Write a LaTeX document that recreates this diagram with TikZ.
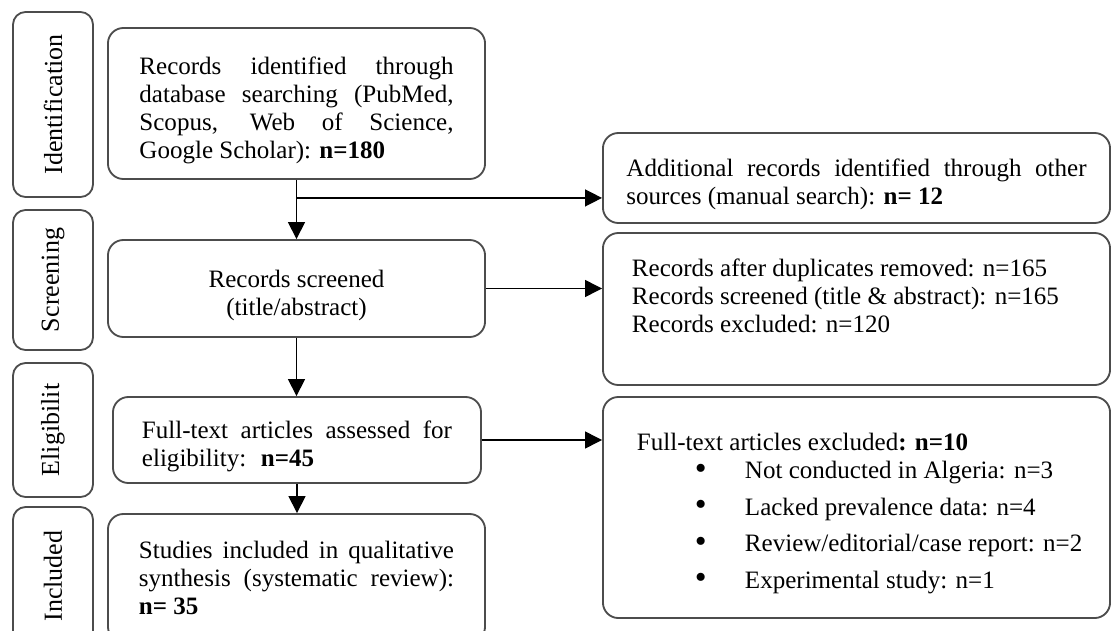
\documentclass[tikz,border=0pt]{standalone}
\usepackage{fontspec}
\setmainfont{Liberation Serif}
\usetikzlibrary{arrows.meta}

\newcommand{\topstrut}{\rule{0pt}{22pt}}
\newcommand{\exitem}[1]{\hspace*{1.45cm}\makebox[1.25cm][l]{\raisebox{-0.5pt}{\fontsize{24}{20}\selectfont\textbullet}}\mbox{#1}}

\begin{document}
\begin{tikzpicture}[x=0.025cm, y=-0.025cm,
    stagebox/.style={draw=black!70, line width=1.3pt, rounded corners=9pt,
        rotate=90, minimum height=2cm, inner sep=0pt,
        font=\fontsize{18.5}{20}\selectfont},
    flowbox/.style={draw=black!70, line width=1.3pt, rounded corners=11pt,
        inner sep=0pt, align=justify, font=\fontsize{17.8}{20}\selectfont},
    arr/.style={-{Triangle[length=12pt,width=12pt]}, line width=1pt, black}]
    \useasboundingbox (0,0) rectangle (1112,631);

    % stages on the left
    \node[stagebox, minimum width=4.625cm] (idlab) at (53,104.5) {Identification};
    \node[stagebox, minimum width=3.5cm] (scrlab) at (53,280) {Screening};
    \node[stagebox, minimum width=3.35cm] (elilab) at (53,430) {Eligibilit};
    \node[stagebox, minimum width=3.45cm] (inclab) at (53,576) {Included};

    % main column
    \node[flowbox, minimum width=9.425cm, minimum height=3.775cm, text width=7.85cm]
        (recid) at (296.5,103.5)
        {\topstrut Records identified through\linebreak database searching (PubMed,\linebreak
         Scopus, Web of Science,\linebreak Google Scholar): \textbf{n=180}};
    \node[flowbox, minimum width=9.425cm, minimum height=2.425cm, align=center]
        (screened) at (296.5,288.5) {\topstrut Records screened\\(title/abstract)};
    \node[flowbox, minimum width=9.2cm, minimum height=2.15cm, text width=7.75cm]
        (fulltext) at (297,440)
        {\topstrut Full-text articles assessed for\linebreak eligibility:~ \textbf{n=45}};
    \node[flowbox, minimum width=9.425cm, minimum height=3.2cm, text width=7.875cm]
        (included) at (296.5,578)
        {Studies included in qualitative\linebreak synthesis (systematic review):\linebreak
         \textbf{n= 35}};

    % right column
    \node[flowbox, minimum width=12.675cm, minimum height=2.25cm, text width=11.5cm]
        (addrec) at (856.5,178)
        {\topstrut Additional records identified through other\linebreak
         sources (manual search): \textbf{n= 12}};
    \node[flowbox, minimum width=12.675cm, inner ysep=0.65cm, align=left]
        (dedup) at (856.5,309)
        {\parbox[c][2.5cm][t]{11.225cm}{Records after duplicates removed: n=165\\
         Records screened (title \& abstract): n=165\\
         Records excluded: n=120}};
    \node[flowbox, minimum width=12.675cm, inner ysep=0.9cm, align=left]
        (excl) at (856.5,507.5)
        {\parbox[c][3.725cm][t]{10.975cm}{Full-text articles excluded\textbf{: n=10}\\
         \exitem{Not conducted in Algeria: n=3}\\[6pt]
         \exitem{Lacked prevalence data: n=4}\\[6pt]
         \exitem{Review/editorial/case report: n=2}\\[6pt]
         \exitem{Experimental study: n=1}}};

    % connectors
    \coordinate (split) at ([yshift=-0.45cm]recid.south);
    \draw[arr] (recid.south) -- (screened.north);
    \draw[arr] (split) -- (split -| addrec.west);
    \draw[arr] (screened.east) -- (screened.east -| dedup.west);
    \draw[arr] (screened.south) -- (screened.south |- fulltext.north);
    \draw[arr] (fulltext.east) -- (fulltext.east -| excl.west);
    \draw[arr] (fulltext.south) -- (fulltext.south |- included.north);
\end{tikzpicture}
\end{document}
